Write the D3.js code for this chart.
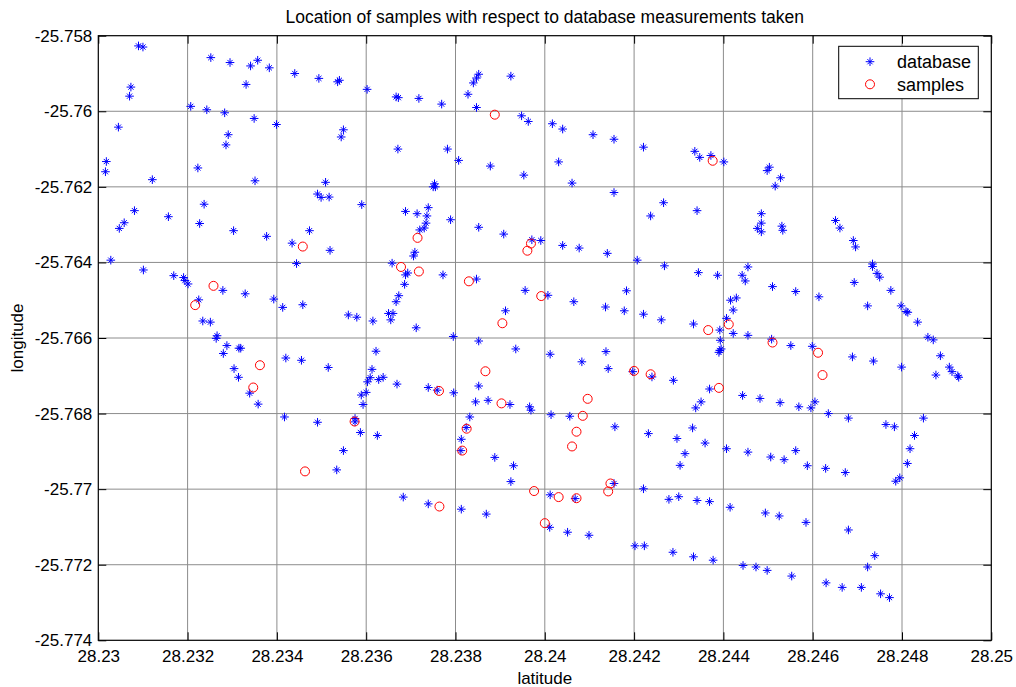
<!DOCTYPE html>
<html>
<head>
<meta charset="utf-8">
<script src="https://cdnjs.cloudflare.com/ajax/libs/d3/7.8.5/d3.min.js"></script>
<style>
  body { margin: 0; background: #fff; }
  svg { display: block; font-family: "Liberation Sans", Arial, Helvetica, sans-serif; }
</style>
</head>
<body>
<div id="container"></div>
<script>
// tick labels as MATLAB prints them
const xTickLabels = ["28.23", "28.232", "28.234", "28.236", "28.238", "28.24", "28.242", "28.244", "28.246", "28.248", "28.25"];
const yTickLabels = ["-25.758", "-25.76", "-25.762", "-25.764", "-25.766", "-25.768", "-25.77", "-25.772", "-25.774"];

// [latitude, longitude] of the database measurements
const databasePts = [
  [28.23090,-25.75827],[28.23100,-25.75830],[28.23252,-25.75858],[28.23295,-25.75871],[28.23341,-25.75880],
  [28.23357,-25.75865],[28.23383,-25.75885],[28.23440,-25.75900],[28.23494,-25.75913],[28.23073,-25.75936],
  [28.23070,-25.75960],[28.23331,-25.75929],[28.23207,-25.75987],[28.23243,-25.75996],[28.23283,-25.76004],
  [28.23349,-25.76019],[28.23399,-25.76035],[28.23045,-25.76042],[28.23291,-25.76062],[28.23286,-25.76089],
  [28.23018,-25.76133],[28.23016,-25.76160],[28.23121,-25.76181],[28.23223,-25.76150],[28.23351,-25.76184],
  [28.23509,-25.76188],[28.23081,-25.76263],[28.23058,-25.76295],[28.23047,-25.76310],[28.23157,-25.76279],
  [28.23237,-25.76246],[28.23227,-25.76297],[28.23303,-25.76316],[28.23377,-25.76331],[28.23473,-25.76316],
  [28.23491,-25.76219],[28.23499,-25.76228],
  [28.23536,-25.75922],[28.23540,-25.75918],[28.23602,-25.75942],[28.23667,-25.75962],[28.23672,-25.75964],
  [28.23718,-25.75966],[28.23769,-25.75981],[28.23828,-25.75955],[28.23840,-25.75925],[28.23847,-25.75912],
  [28.23852,-25.75902],[28.23924,-25.75907],[28.23847,-25.75990],[28.23948,-25.76012],[28.23963,-25.76027],
  [28.24017,-25.76033],[28.23549,-25.76049],[28.23544,-25.76068],[28.23671,-25.76100],[28.23782,-25.76100],
  [28.23807,-25.76130],[28.23878,-25.76145],[28.23953,-25.76169],[28.23517,-25.76227],[28.23753,-25.76192],
  [28.23750,-25.76200],[28.23755,-25.76200],[28.23590,-25.76247],[28.23688,-25.76265],[28.23714,-25.76271],
  [28.23739,-25.76255],[28.23736,-25.76277],[28.23734,-25.76296],[28.23730,-25.76309],[28.23720,-25.76314],
  [28.23789,-25.76287],[28.23852,-25.76307],[28.23908,-25.76325],
  [28.24040,-25.76047],[28.24108,-25.76062],[28.24155,-25.76074],[28.24221,-25.76095],[28.24336,-25.76106],
  [28.24347,-25.76122],[28.24372,-25.76117],[28.24401,-25.76134],[28.24031,-25.76134],[28.24061,-25.76190],
  [28.24155,-25.76215],[28.24266,-25.76242],[28.24237,-25.76277],[28.24341,-25.76263],[28.24485,-25.76271],
  [28.24485,-25.76296],[28.24476,-25.76310],[28.24485,-25.76319],[28.24503,-25.76148],[28.24498,-25.76157],
  [28.24528,-25.76176],[28.24516,-25.76198],
  [28.24531,-25.76304],[28.24533,-25.76315],[28.24651,-25.76289],[28.24661,-25.76309],
  [28.23434,-25.76349],[28.23444,-25.76403],[28.23028,-25.76394],[28.23101,-25.76420],[28.23169,-25.76435],
  [28.23191,-25.76440],[28.23194,-25.76448],[28.23201,-25.76457],[28.23279,-25.76474],[28.23329,-25.76483],
  [28.23393,-25.76497],[28.23413,-25.76519],[28.23458,-25.76512],[28.23225,-25.76499],[28.23234,-25.76555],
  [28.23251,-25.76558],[28.23266,-25.76594],[28.23264,-25.76601],[28.23288,-25.76620],[28.23280,-25.76641],
  [28.23315,-25.76627],[28.23319,-25.76627],[28.23304,-25.76681],[28.23314,-25.76704],[28.23339,-25.76746],
  [28.23358,-25.76775],[28.23420,-25.76653],[28.23455,-25.76659],[28.23417,-25.76809],[28.23491,-25.76823],
  [28.23519,-25.76368],[28.23709,-25.76373],[28.23706,-25.76383],[28.23658,-25.76402],[28.23693,-25.76428],
  [28.23688,-25.76433],[28.23686,-25.76458],[28.23673,-25.76488],[28.23667,-25.76504],[28.23650,-25.76535],
  [28.23660,-25.76535],[28.23655,-25.76552],[28.23560,-25.76539],[28.23579,-25.76545],[28.23615,-25.76555],
  [28.23712,-25.76573],[28.23772,-25.76433],[28.23847,-25.76444],[28.23971,-25.76340],[28.23991,-25.76342],
  [28.23956,-25.76474],[28.24007,-25.76487],[28.23912,-25.76528],[28.23795,-25.76596],[28.23852,-25.76608],
  [28.23935,-25.76629],[28.24012,-25.76643],[28.23622,-25.76635],[28.23515,-25.76678],[28.23613,-25.76683],
  [28.23609,-25.76705],[28.23603,-25.76716],[28.23628,-25.76710],[28.23638,-25.76704],[28.23669,-25.76722],
  [28.23589,-25.76751],[28.23600,-25.76744],[28.23593,-25.76776],[28.23739,-25.76731],[28.23759,-25.76738],
  [28.23796,-25.76745],[28.23852,-25.76727],[28.23845,-25.76769],[28.23873,-25.76765],[28.23922,-25.76776],
  [28.23966,-25.76782],[28.23969,-25.76791],[28.24014,-25.76803],[28.23575,-25.76813],[28.23575,-25.76822],
  [28.23587,-25.76850],[28.23625,-25.76858],[28.23832,-25.76809],[28.23824,-25.76837],[28.23813,-25.76868],
  [28.24040,-25.76355],[28.24077,-25.76362],[28.24140,-25.76376],[28.24207,-25.76394],[28.24268,-25.76409],
  [28.24344,-25.76427],[28.24387,-25.76434],[28.24455,-25.76412],[28.24442,-25.76434],[28.24449,-25.76449],
  [28.24510,-25.76464],[28.24183,-25.76475],[28.24065,-25.76504],[28.24136,-25.76518],[28.24178,-25.76528],
  [28.24221,-25.76537],[28.24261,-25.76552],[28.24333,-25.76563],[28.24416,-25.76500],[28.24429,-25.76494],
  [28.24422,-25.76526],[28.24407,-25.76548],[28.24392,-25.76579],[28.24422,-25.76588],[28.24455,-25.76593],
  [28.24393,-25.76606],[28.24392,-25.76633],[28.24395,-25.76629],[28.24390,-25.76638],[28.24508,-25.76603],
  [28.24137,-25.76636],[28.24083,-25.76663],[28.24142,-25.76681],[28.24197,-25.76689],[28.24240,-25.76703],
  [28.24288,-25.76712],[28.24369,-25.76735],[28.24350,-25.76769],[28.24338,-25.76785],[28.24443,-25.76752],
  [28.24482,-25.76760],[28.24527,-25.76771],[28.24056,-25.76807],[28.24157,-25.76835],[28.24232,-25.76853],
  [28.24296,-25.76866],[28.24331,-25.76838],
  [28.24691,-25.76342],[28.24696,-25.76359],[28.24734,-25.76404],[28.24734,-25.76411],[28.24744,-25.76429],
  [28.24750,-25.76439],[28.24693,-25.76453],[28.24562,-25.76477],[28.24614,-25.76491],[28.24775,-25.76474],
  [28.24723,-25.76515],[28.24798,-25.76515],[28.24809,-25.76530],[28.24813,-25.76532],[28.24835,-25.76558],
  [28.24858,-25.76598],[28.24870,-25.76605],[28.24886,-25.76647],[28.24906,-25.76677],[28.24912,-25.76689],
  [28.24925,-25.76700],[28.24927,-25.76704],[28.24876,-25.76698],[28.24799,-25.76677],[28.24736,-25.76661],
  [28.24689,-25.76650],[28.24599,-25.76622],[28.24551,-25.76620],[28.24569,-25.76782],[28.24596,-25.76785],
  [28.24605,-25.76769],[28.24635,-25.76800],[28.24680,-25.76812],[28.24764,-25.76829],[28.24783,-25.76835],
  [28.24828,-25.76858],[28.24848,-25.76812],
  [28.23549,-25.76898],[28.23534,-25.76949],[28.23812,-25.76898],[28.23888,-25.76916],[28.23930,-25.76938],
  [28.23924,-25.76980],[28.23683,-25.77021],[28.23739,-25.77039],[28.23813,-25.77053],[28.23869,-25.77066],
  [28.24012,-25.77015],[28.24011,-25.77101],
  [28.24359,-25.76878],[28.24314,-25.76906],[28.24303,-25.76937],[28.24407,-25.76893],[28.24455,-25.76902],
  [28.24506,-25.76915],[28.24155,-25.76985],[28.24221,-25.76999],[28.24068,-25.77025],[28.24051,-25.77114],
  [28.24099,-25.77122],[28.24278,-25.77027],[28.24300,-25.77020],[28.24341,-25.77030],[28.24369,-25.77033],
  [28.24415,-25.77048],[28.24494,-25.77063],[28.24525,-25.77071],[28.24202,-25.77150],[28.24223,-25.77150],
  [28.24287,-25.77167],[28.24333,-25.77179],[28.24377,-25.77188],[28.24444,-25.77202],[28.24473,-25.77206],
  [28.24498,-25.77215],
  [28.24536,-25.76922],[28.24562,-25.76898],[28.24588,-25.76938],[28.24629,-25.76945],[28.24673,-25.76956],
  [28.24786,-25.76979],[28.24795,-25.76970],[28.24812,-25.76932],[28.24818,-25.76893],[28.24585,-25.77088],
  [28.24680,-25.77108],[28.24739,-25.77176],[28.24723,-25.77206],[28.24553,-25.77230],[28.24630,-25.77248],
  [28.24666,-25.77260],[28.24709,-25.77260],[28.24752,-25.77277],[28.24772,-25.77287]
];

// [latitude, longitude] of the samples
const samplePts = [
  [28.23888,-25.76009],[28.23715,-25.76335],[28.24376,-25.76131],
  [28.23458,-25.76358],[28.23258,-25.76462],[28.23217,-25.76513],[28.23362,-25.76672],[28.23347,-25.76731],
  [28.23678,-25.76412],[28.23718,-25.76424],[28.23830,-25.76450],[28.23969,-25.76350],[28.23961,-25.76369],
  [28.23992,-25.76489],[28.23905,-25.76561],[28.23763,-25.76740],[28.23867,-25.76688],[28.23903,-25.76773],
  [28.23574,-25.76821],[28.23825,-25.76840],
  [28.24366,-25.76579],[28.24412,-25.76564],[28.24510,-25.76612],[28.24200,-25.76687],[28.24237,-25.76696],
  [28.24390,-25.76732],[28.24096,-25.76761],[28.24085,-25.76806],[28.24071,-25.76848],
  [28.24612,-25.76639],[28.24622,-25.76698],
  [28.23463,-25.76953],
  [28.23815,-25.76898],[28.23764,-25.77046],[28.23976,-25.77005],[28.24000,-25.77090],
  [28.24061,-25.76887],[28.24147,-25.76985],[28.24142,-25.77006],[28.24031,-25.77021],[28.24071,-25.77024]
];

const W = 1016, H = 687;
const plot = {left: 98.3, top: 35.7, right: 991.3, bottom: 640.3};

const svg = d3.select("#container").append("svg")
  .attr("width", W)
  .attr("height", H);

svg.append("rect").attr("width", W).attr("height", H).attr("fill", "#fff");

const xVals = xTickLabels.map(Number);
const yVals = yTickLabels.map(Number);

const x = d3.scaleLinear()
  .domain([xVals[0], xVals[xVals.length - 1]])
  .range([plot.left, plot.right]);

const y = d3.scaleLinear()
  .domain([yVals[yVals.length - 1], yVals[0]])
  .range([plot.bottom, plot.top]);

const pw = plot.right - plot.left;
const ph = plot.bottom - plot.top;

// grid
const grid = svg.append("g").attr("class", "grid");
grid.selectAll("line.gx")
  .data(xVals.slice(1, -1))
  .join("line")
  .attr("x1", d => x(d)).attr("x2", d => x(d))
  .attr("y1", plot.top).attr("y2", plot.bottom)
  .attr("stroke", "#8c8c8c").attr("stroke-width", 1);
grid.selectAll("line.gy")
  .data(yVals.slice(1, -1))
  .join("line")
  .attr("x1", plot.left).attr("x2", plot.right)
  .attr("y1", d => y(d)).attr("y2", d => y(d))
  .attr("stroke", "#8c8c8c").attr("stroke-width", 1);

// axes, ticks inside like matlab
const fmtX = (d, i) => xTickLabels[i];
const fmtY = (d, i) => yTickLabels[i];

const axB = svg.append("g")
  .attr("transform", `translate(0,${plot.bottom})`)
  .call(d3.axisBottom(x).tickValues(xVals).tickFormat(fmtX).tickSizeInner(-8).tickSizeOuter(0).tickPadding(10));
const axL = svg.append("g")
  .attr("transform", `translate(${plot.left},0)`)
  .call(d3.axisLeft(y).tickValues(yVals).tickFormat(fmtY).tickSizeInner(-8).tickSizeOuter(0).tickPadding(6));
const axT = svg.append("g")
  .attr("transform", `translate(0,${plot.top})`)
  .call(d3.axisTop(x).tickValues(xVals).tickFormat("").tickSizeInner(-8).tickSizeOuter(0));
const axR = svg.append("g")
  .attr("transform", `translate(${plot.right},0)`)
  .call(d3.axisRight(y).tickValues(yVals).tickFormat("").tickSizeInner(-8).tickSizeOuter(0));

[axB, axL, axT, axR].forEach(a => {
  a.select(".domain").remove();
  a.selectAll("line").attr("stroke", "#000");
  a.selectAll("text")
    .attr("fill", "#000")
    .style("font-size", "17px")
    .style("font-family", "'Liberation Sans', Arial, sans-serif");
});

svg.append("rect")
  .attr("x", plot.left).attr("y", plot.top)
  .attr("width", pw).attr("height", ph)
  .attr("fill", "none").attr("stroke", "#000").attr("stroke-width", 1.2);

// markers
const starPath = "M-4.3,0H4.3M0,-4.3V4.3M-2.6,-2.6L2.6,2.6M-2.6,2.6L2.6,-2.6";

svg.append("g")
  .selectAll("path")
  .data(databasePts)
  .join("path")
  .attr("transform", d => `translate(${x(d[0])},${y(d[1])})`)
  .attr("d", starPath)
  .attr("fill", "none")
  .attr("stroke", "#0000ff")
  .attr("stroke-width", 1);

svg.append("g")
  .selectAll("circle")
  .data(samplePts)
  .join("circle")
  .attr("cx", d => x(d[0]))
  .attr("cy", d => y(d[1]))
  .attr("r", 4.5)
  .attr("fill", "none")
  .attr("stroke", "#ff0000")
  .attr("stroke-width", 1);

// title and axis labels
svg.append("text")
  .attr("x", (plot.left + plot.right) / 2)
  .attr("y", 23)
  .attr("text-anchor", "middle")
  .style("font-size", "17.5px")
  .text("Location of samples with respect to database measurements taken");

svg.append("text")
  .attr("x", (plot.left + plot.right) / 2)
  .attr("y", 684)
  .attr("text-anchor", "middle")
  .style("font-size", "17px")
  .text("latitude");

svg.append("text")
  .attr("transform", `translate(23,${(plot.top + plot.bottom) / 2}) rotate(-90)`)
  .attr("text-anchor", "middle")
  .style("font-size", "17px")
  .text("longitude");

// legend
const legend = svg.append("g").attr("transform", "translate(838.7,46.3)");
legend.append("rect")
  .attr("width", 139.6).attr("height", 52.4)
  .attr("fill", "#fff").attr("stroke", "#000").attr("stroke-width", 1);

const legendItems = [
  {label: "database", type: "star"},
  {label: "samples", type: "circle"}
];
legendItems.forEach((item, i) => {
  const row = legend.append("g").attr("transform", `translate(31.3,${15.4 + i * 22.6})`);
  if (item.type === "star") {
    row.append("path").attr("d", starPath).attr("fill", "none").attr("stroke", "#0000ff").attr("stroke-width", 1);
  } else {
    row.append("circle").attr("r", 4.5).attr("fill", "none").attr("stroke", "#ff0000").attr("stroke-width", 1);
  }
  row.append("text")
    .attr("x", 27)
    .attr("dy", "0.35em")
    .style("font-size", "18px")
    .text(item.label);
});
</script>
</body>
</html>
